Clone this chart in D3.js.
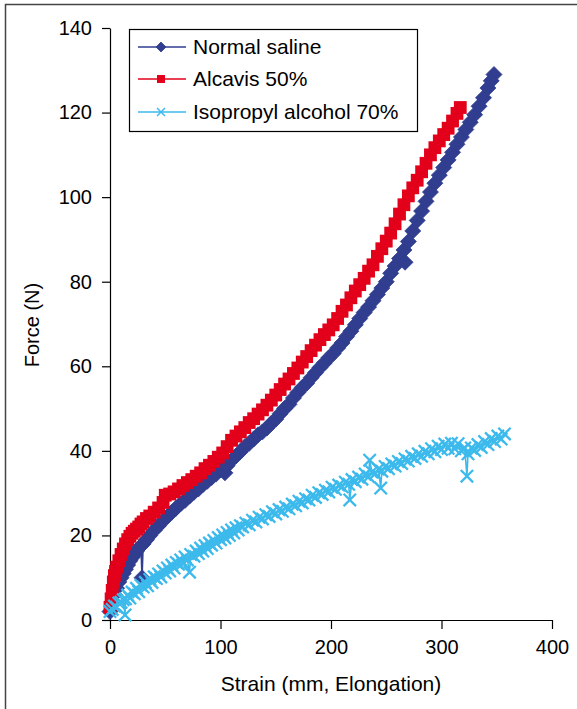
<!DOCTYPE html>
<html><head><meta charset="utf-8">
<script src="https://cdn.jsdelivr.net/npm/d3@7"></script>
<style>
html,body{margin:0;padding:0;background:#fff;}
svg{display:block;font-family:"Liberation Sans",Arial,Helvetica,sans-serif;}
</style></head>
<body>
<svg id="chart" width="577" height="709"></svg>
<script>
// ---- data (strain mm, force N) ----
const seriesNames = ["Normal saline", "Alcavis 50%", "Isopropyl alcohol 70%"];
const xTicks = [0, 100, 200, 300, 400];
const yTicks = [0, 20, 40, 60, 80, 100, 120, 140];

const normalSaline = [[0,2],[2,4],[4,6],[6,7.5],[8,9],[10,10],[12,11],[14,12],[16,13],[18,14],[20,14.8],[22,15.5],[24,16.3],[26,17],[28,17.5],[29,10],[30,18],[33,19],[36,20],[40,21.2],[44,22.3],[48,23.5],[52,24.5],[56,25.5],[60,26.5],[64,27.5],[68,28.3],[72,29.3],[76,30.2],[80,31],[84,32],[88,32.8],[92,33.7],[96,34.5],[100,35.5],[104,34.8],[106,36.5],[110,37.8],[114,38.8],[118,39.8],[122,41],[126,41.8],[130,42.8],[134,43.8],[138,44.5],[142,45.4],[146,46.5],[150,47.5],[154,48.8],[158,50],[162,51],[166,52.5],[170,53.8],[174,55],[178,56],[182,57.3],[186,58.5],[190,59.7],[194,60.8],[198,62],[202,63],[206,64.3],[210,65.5],[214,67],[218,68.3],[222,69.8],[226,71.3],[230,72.7],[234,74],[238,75.5],[242,77],[246,78.5],[250,80],[254,82],[258,83.7],[262,85.5],[266,87.5],[267,84.6],[270,89.5],[274,92],[278,94.5],[282,96.7],[286,99],[290,101.2],[294,103.3],[298,105.2],[302,107],[306,108.8],[310,110.6],[314,112.5],[318,114.2],[322,116],[326,117.7],[330,119.5],[334,121.5],[338,123.5],[342,125.8],[345,127.5],[347.5,129]];

const alcavis = [[0,3],[1,5],[2,7],[3,9],[4,10.5],[5,11.5],[6,12.5],[8,14],[10,15.5],[12,16.8],[14,18],[16,19],[18,19.8],[20,20.5],[22,21],[24,21.5],[26,22],[28,22.7],[30,23.2],[33,24],[36,24.6],[40,25.5],[44,26.5],[48,27.8],[50,29.5],[54,29.8],[58,30.3],[62,31],[66,31.8],[70,32.5],[74,33.2],[78,34],[82,34.8],[86,35.8],[90,36.6],[94,37.5],[98,38.5],[102,39.5],[106,41],[110,42.5],[114,43.5],[118,44.5],[122,45.5],[126,46.7],[130,47.6],[134,48.7],[138,49.7],[142,50.8],[146,52],[150,53.2],[154,54.5],[158,55.8],[162,57],[166,58.3],[170,59.6],[174,61],[178,62.3],[182,63.7],[186,65],[190,66.3],[194,67.5],[198,68.6],[202,69.8],[206,71.3],[210,73],[214,74.5],[218,76.2],[222,77.8],[226,79.3],[230,80.8],[234,82.5],[238,84],[242,86],[246,87.8],[250,89.6],[254,91.5],[258,93.7],[262,96],[266,98.2],[270,100.3],[274,102.2],[278,104],[282,106],[286,108],[290,110],[294,111.7],[298,113.3],[302,114.8],[306,116.3],[310,118],[314,119.8],[317,121.2]];

const isopropyl = [[0,2],[2,2.5],[4,3.3],[6,3],[8,4],[10,4.2],[12,4.8],[13.6,1.2],[14,5],[16,5.9],[18,5.2],[20,6.6],[22,6.2],[24,7.5],[26,6.7],[28,8.2],[30,7.8],[32,8.9],[34,8.1],[36,9.6],[38,8.9],[40,10.2],[42,9.8],[44,10.9],[46,10.2],[48,11.6],[50,11.1],[52,12.3],[54,11.6],[56,13],[58,12.3],[60,13.6],[62,13.2],[64,14.2],[66,13.5],[68,14.9],[70,14.2],[72,11.3],[73,15.5],[76,15.1],[78,16.3],[80,15.7],[82,17],[84,16.3],[86,17.6],[88,16.9],[90,18.2],[92,17.7],[94,18.8],[96,18.2],[98,19.5],[100,19],[102,20.1],[104,19.4],[106,20.7],[108,20],[110,21.3],[112,20.6],[114,21.8],[116,21.3],[118,22.3],[120,22],[123,22.9],[126,22.5],[129,23.6],[132,23.2],[135,24.3],[138,23.9],[141,24.9],[144,24.5],[147,25.6],[150,25.1],[153,26.1],[156,25.7],[159,26.7],[162,26.3],[165,27.4],[168,27],[171,28.1],[174,27.7],[177,28.7],[180,28.4],[183,29.5],[186,29],[189,30.1],[192,29.7],[195,30.7],[198,30.3],[201,31.4],[204,30.9],[207,31.9],[210,31.5],[213,32.6],[216,32.1],[217,28.4],[219,33.2],[222,32.7],[225,33.8],[228,33.3],[231,34.5],[234,33.9],[235,37.8],[237,35],[240,34.6],[243,35.7],[245,31.2],[246,35.2],[249,36.3],[252,35.8],[255,36.9],[258,36.4],[261,37.5],[264,37],[267,38.1],[270,37.6],[273,38.7],[276,38.2],[279,39.3],[282,38.7],[285,39.9],[288,39.3],[291,40.5],[294,39.8],[297,41.1],[300,40.3],[303,41.6],[306,40.6],[309,41.8],[312,40.5],[315,41.7],[318,40],[321,40.7],[323,34],[324,39.3],[327,40.7],[330,40.1],[333,41.5],[336,40.8],[339,42.2],[342,41.5],[345,42.9],[348,42.2],[351,43.5],[354,42.8],[357,44]];

const colors = ["#313d8f", "#e2001a", "#3dbaec"];
const markerTypes = ["diamond", "square", "cross"];

// ---- drawing ----
const svg = d3.select("#chart");
const FONT = 20;

// outer frame
svg.append("path").attr("d", "M5.5,720 V4.5 H590").attr("fill", "none")
  .attr("stroke", "#444").attr("stroke-width", 1.5);

const x = d3.scaleLinear().domain([0, 400]).range([110, 552]);
const y = d3.scaleLinear().domain([0, 140]).range([620, 28]);

// axes
const gx = svg.append("g").attr("transform", "translate(0,620)")
  .call(d3.axisBottom(x).tickValues(xTicks).tickSize(9).tickSizeOuter(0).tickPadding(11));
const gy = svg.append("g").attr("transform", "translate(110,0)")
  .call(d3.axisLeft(y).tickValues(yTicks).tickSize(8).tickSizeOuter(0).tickPadding(10));
[gx, gy].forEach(g => {
  g.selectAll("path,line").attr("stroke", "#000").attr("stroke-width", 1.2);
  g.selectAll("text").attr("font-size", FONT).attr("font-family", null).attr("fill", "#000");
});

svg.append("text").attr("x", 331).attr("y", 691).attr("text-anchor", "middle")
  .attr("font-size", 21).text("Strain (mm, Elongation)");
svg.append("text").attr("transform", "translate(39,325) rotate(-90)").attr("text-anchor", "middle")
  .attr("font-size", FONT).text("Force (N)");

function drawMarker(g, type, color, cx, cy, s, sw) {
  if (type === "diamond") {
    const r = 5 * s;
    g.append("path").attr("d", `M${cx},${cy-r}L${cx+r},${cy}L${cx},${cy+r}L${cx-r},${cy}Z`)
      .attr("fill", color).attr("stroke", color).attr("stroke-width", 0.8);
  } else if (type === "square") {
    const h = 4 * s;
    g.append("rect").attr("x", cx-h).attr("y", cy-h).attr("width", 2*h).attr("height", 2*h)
      .attr("fill", color);
  } else {
    const h = 4 * s;
    g.append("path").attr("d", `M${cx-h},${cy-h}L${cx+h},${cy+h}M${cx-h},${cy+h}L${cx+h},${cy-h}`)
      .attr("stroke", color).attr("stroke-width", sw || 1.5).attr("fill", "none");
  }
}

const allData = [normalSaline, alcavis, isopropyl];
const markerScale = [1.6, 1.6, 1.55];
const line = d3.line().x(d => x(d[0])).y(d => y(d[1]));
allData.forEach((data, i) => {
  const g = svg.append("g");
  g.append("path").datum(data).attr("d", line).attr("fill", "none")
    .attr("stroke", colors[i]).attr("stroke-width", 1.6);
  data.forEach(d => drawMarker(g, markerTypes[i], colors[i], x(d[0]), y(d[1]), markerScale[i], 2.3));
});

// legend
const lg = svg.append("g");
lg.append("rect").attr("x", 129.5).attr("y", 29.5).attr("width", 288).attr("height", 102)
  .attr("fill", "#fff").attr("stroke", "#000").attr("stroke-width", 1.2);
const rowY = [47, 79, 112];
seriesNames.forEach((name, i) => {
  lg.append("line").attr("x1", 138).attr("x2", 186).attr("y1", rowY[i]).attr("y2", rowY[i])
    .attr("stroke", colors[i]).attr("stroke-width", 1.3);
  drawMarker(lg, markerTypes[i], colors[i], 161, rowY[i], 1, 1.5);
  lg.append("text").attr("x", 193).attr("y", rowY[i] + 7).attr("font-size", 21).text(name);
});
</script>
</body></html>
